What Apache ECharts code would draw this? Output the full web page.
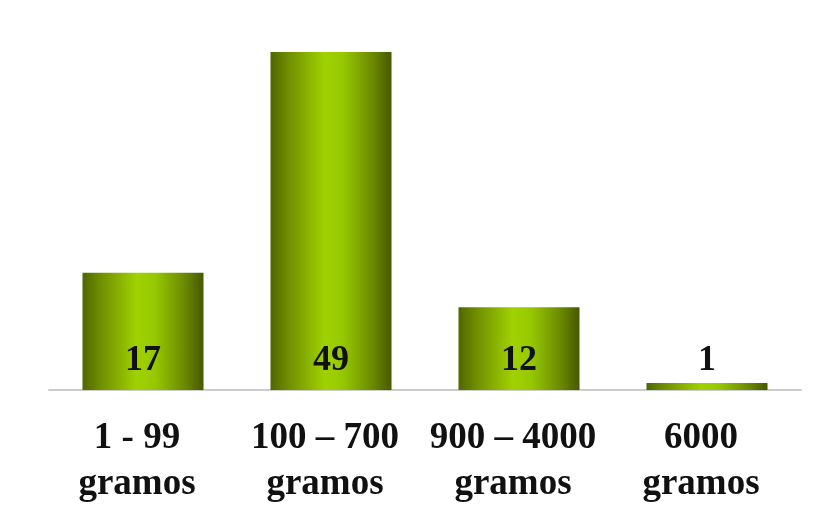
<!DOCTYPE html>
<html>
<head>
<meta charset="utf-8">
<script src="https://cdn.jsdelivr.net/npm/echarts@6/dist/echarts.min.js"></script>
<style>
html,body{margin:0;padding:0;background:#fff;}
#c{width:834px;height:509px;}
</style>
</head>
<body>
<div id="c"></div>
<script>
const categories = ["1 - 99\ngramos", "100 \u2013 700\ngramos", "900 \u2013 4000\ngramos", "6000\ngramos"];
const values = [17, 49, 12, 1];

const chart = echarts.init(document.getElementById('c'));
const grad = new echarts.graphic.LinearGradient(0, 0, 1, 0, [
  {offset: 0, color: '#506600'},
  {offset: 0.15, color: '#708f00'},
  {offset: 0.45, color: '#a0d200'},
  {offset: 0.6, color: '#96c800'},
  {offset: 0.85, color: '#6a8800'},
  {offset: 1, color: '#465800'}
]);
chart.setOption({
  animation: false,
  backgroundColor: '#ffffff',
  grid: {left: 49, right: 33, top: 52, bottom: 119},
  xAxis: {
    type: 'category',
    data: categories,
    axisLine: {lineStyle: {color: '#cccccc', width: 2}},
    axisTick: {show: false},
    axisLabel: {
      margin: 25,
      fontFamily: 'Liberation Serif',
      fontWeight: 'bold',
      fontSize: 37,
      lineHeight: 46,
      color: '#111',
      padding: [0, 12, 0, 0],
      interval: 0
    }
  },
  yAxis: {
    type: 'value',
    min: 0,
    max: 49,
    show: false
  },
  series: [{
    type: 'bar',
    data: values,
    barWidth: 121,
    itemStyle: {color: grad},
    label: {
      show: true,
      position: 'insideBottom',
      distance: 11,
      fontFamily: 'Liberation Serif',
      fontWeight: 'bold',
      fontSize: 36,
      color: '#111'
    }
  }]
});
</script>
</body>
</html>
